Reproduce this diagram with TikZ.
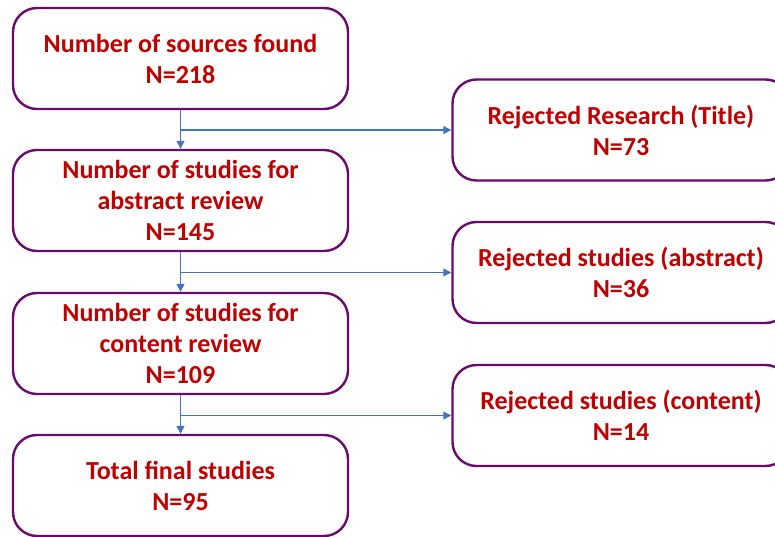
\documentclass[tikz,border=0pt]{standalone}
\usepackage{fontspec}
\setmainfont{Carlito}
\usetikzlibrary{arrows.meta}
\definecolor{boxline}{HTML}{6A0A6E}
\definecolor{boxtext}{HTML}{C00000}
\definecolor{flowline}{HTML}{4472C4}

\begin{document}
\begin{tikzpicture}[x=1pt, y=-1pt,
    stage/.style={draw=boxline, line width=2.4pt, rounded corners=24pt, fill=white,
      minimum width=335pt, minimum height=101pt, align=center, text=boxtext,
      font=\fontsize{26}{31}\selectfont\bfseries},
    reject/.style={stage, minimum width=337pt},
    flow/.style={draw=flowline, line width=1.2pt, -{Triangle[width=8pt,length=8pt]}}]
      \useasboundingbox (0,0) rectangle (775,537);
      \node[stage] (found) at (180.5, 58.5) {Number of sources found\\N=218};
      \node[stage] (abstract) at (180.5, 200.5) {Number of studies for\\abstract review\\N=145};
      \node[stage] (content) at (180.5, 343.5) {Number of studies for\\content review\\N=109};
      \node[stage] (final) at (180.5, 485.5) {Total final studies\\N=95};
      \node[reject] (title) at (621, 130) {Rejected Research (Title)\\N=73};
      \node[reject] (rejabs) at (621, 272.5) {Rejected studies (abstract)\\N=36};
      \node[reject] (rejcon) at (621, 415.5) {Rejected studies (content)\\N=14};
      \draw[flow] (found) -- (abstract);
      \draw[flow] (abstract) -- (content);
      \draw[flow] (content) -- (final);
      \draw[flow] (found.south |- title.west) -- (title.west);
      \draw[flow] (abstract.south |- rejabs.west) -- (rejabs.west);
      \draw[flow] (content.south |- rejcon.west) -- (rejcon.west);
\end{tikzpicture}
\end{document}
